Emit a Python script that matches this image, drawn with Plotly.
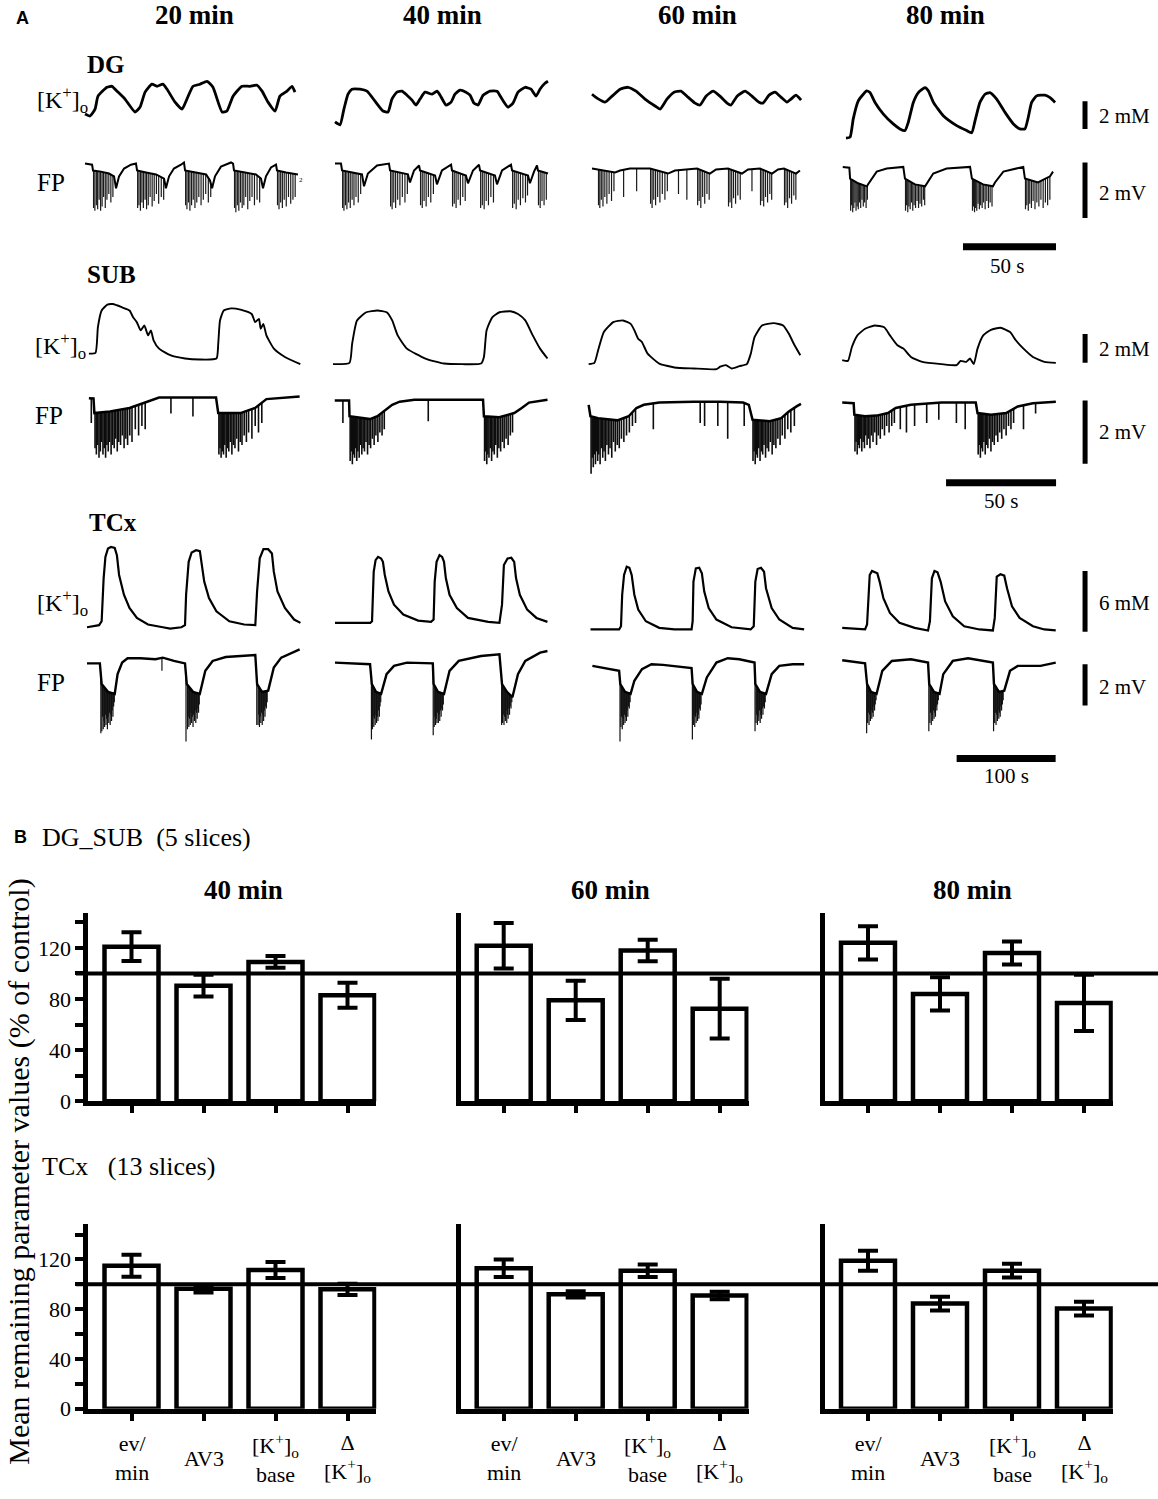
import numpy as np
import plotly.graph_objects as go

W, H = 1158, 1499
SERIF = "Liberation Serif, Times New Roman, serif"
SANS = "Liberation Sans, Arial, sans-serif"

# ======================= PANEL B DATA =======================
CATEGORIES = ["ev/<br>min", "AV3", "[K<sup>+</sup>]<sub>o</sub><br>base", "Δ<br>[K<sup>+</sup>]<sub>o</sub>"]
B_TIMES = ["40 min", "60 min", "80 min"]
Y_MAJOR = [0, 40, 80, 120]
Y_MINOR = [20, 60, 100, 140]

DGSUB_40_MEAN = [121, 90.5, 109, 83]
DGSUB_40_ERR = [11.3, 8.5, 4.6, 9.7]
DGSUB_60_MEAN = [121.7, 79, 118, 72.5]
DGSUB_60_ERR = [17.7, 15.4, 8.4, 23.4]
DGSUB_80_MEAN = [124, 84, 116, 77]
DGSUB_80_ERR = [13, 13, 9, 22]

TCX_40_MEAN = [115, 96.5, 111.5, 96]
TCX_40_ERR = [8.9, 3.0, 6.4, 4.5]
TCX_60_MEAN = [113, 92, 111, 91]
TCX_60_ERR = [7, 2.5, 5, 3]
TCX_80_MEAN = [119, 84.5, 111, 80.5]
TCX_80_ERR = [8, 5.6, 5.5, 5.5]
CONTROL_LEVEL = 100

# ======================= PANEL A DATA =======================
# (time s, [K+]o change mM) and (time s, FP mV)
DG20_K = [(0, 0.71), (2.7, 0.57), (5.4, 1.07), (7.0, 2.0), (11.8, 2.64), (14.5, 2.71), (17.2, 2.36), (21.5, 1.79),
          (26.9, 0.86), (29.6, 1.21), (32.3, 2.29), (36.0, 2.86), (38.7, 2.71), (41.9, 2.86), (44.1, 2.5), (48.4, 1.57),
          (52.2, 1.07), (54.8, 1.79), (58.1, 2.71), (61.8, 2.86), (65.6, 3.07), (68.8, 2.64), (73.7, 0.86), (76.3, 0.93),
          (79.6, 2.0), (84.4, 2.71), (88.7, 2.71), (92.5, 2.79), (95.2, 2.36), (98.4, 1.57), (102.2, 0.93), (104.8, 2.0),
          (108.6, 2.36), (111.3, 2.71), (112.9, 2.29)]
DG40_K = [(0, 0.14), (2.7, -0.07), (4.8, 1.07), (7.0, 2.14), (9.1, 2.5), (13.4, 2.5), (17.2, 2.36), (21.5, 1.64),
          (25.8, 0.93), (28.5, 0.86), (30.6, 1.79), (33.3, 2.29), (36.0, 2.36), (38.7, 2.07), (41.4, 1.71), (43.5, 1.36),
          (45.7, 1.79), (48.4, 2.29), (52.2, 2.14), (54.8, 2.36), (56.5, 2.07), (59.7, 1.36), (62.4, 1.57), (64.5, 2.14),
          (67.2, 2.43), (70.4, 2.29), (72.6, 2.07), (74.7, 1.5), (76.9, 1.36), (79.6, 2.07), (83.3, 2.36), (87.1, 2.36),
          (89.8, 1.79), (93.0, 1.21), (95.7, 1.5), (98.4, 2.29), (102.2, 2.64), (105.4, 2.5), (108.1, 2.0), (110.2, 2.5),
          (112.9, 2.93), (114.5, 3.07)]
DG60_K = [(0, 2.14), (2.7, 1.86), (7.0, 1.57), (10.8, 2.0), (15.1, 2.5), (19.4, 2.64), (23.7, 2.36), (28.5, 1.79),
          (33.9, 1.29), (36.6, 1.07), (40.3, 1.79), (44.1, 2.29), (47.8, 2.36), (51.6, 1.93), (55.4, 1.5), (58.1, 1.36),
          (61.3, 2.0), (65.1, 2.36), (68.8, 2.0), (72.6, 1.5), (74.7, 1.36), (78.0, 2.0), (82.3, 2.36), (86.0, 2.0),
          (89.8, 1.57), (91.9, 1.5), (95.2, 2.07), (98.4, 2.29), (101.6, 1.93), (104.8, 1.57), (107.0, 1.79),
          (109.7, 2.07), (112.4, 1.71)]
DG80_K = [(0, -1.02), (2.2, -0.95), (3.9, 0.36), (6.6, 1.66), (9.3, 2.14), (11.1, 2.38), (12.9, 2.26), (15.6, 1.55),
          (20.1, 0.71), (25.4, 0), (29.0, -0.36), (31.7, -0.48), (33.5, 0.12), (36.2, 1.55), (38.9, 2.26), (42.5, 2.62),
          (44.3, 2.38), (47.0, 1.55), (52.3, 0.59), (59.5, -0.12), (64.9, -0.48), (67.6, -0.64), (69.4, 0.24),
          (72.0, 1.55), (74.7, 2.14), (77.4, 2.26), (81.0, 1.79), (85.5, 0.83), (90.0, 0), (93.5, -0.36), (96.2, -0.36),
          (98.0, 0.48), (99.8, 1.55), (102.5, 2.02), (107.0, 2.07), (109.7, 1.9), (112.4, 1.55)]

DG20_FP = [(0, 0), (3.8, -0.04), (4.3, -0.25), (8.6, -0.29), (12.9, -0.36), (15.6, -0.46), (16.7, -0.89), (18.3, -0.46),
           (21.0, -0.18), (24.7, -0.04), (27.4, 0), (28.0, -0.25), (32.8, -0.32), (38.2, -0.39), (42.5, -0.54),
           (43.5, -0.89), (45.2, -0.46), (47.8, -0.18), (51.6, -0.04), (53.2, 0.04), (53.8, -0.25), (59.7, -0.32),
           (65.1, -0.39), (67.2, -0.61), (68.3, -0.89), (69.9, -0.46), (73.1, -0.11), (78.5, 0.04), (79.6, 0),
           (80.1, -0.25), (86.6, -0.32), (91.9, -0.39), (94.6, -0.54), (95.7, -0.89), (97.3, -0.46), (100.0, -0.14),
           (102.7, -0.04), (103.2, -0.25), (108.1, -0.32), (114.5, -0.39)]
DG20_SPK_T = [4.6, 5.3, 6.1, 6.8, 7.6, 8.4, 9.2, 10.0, 10.9, 11.8, 12.8, 13.9, 15.0,
              28.3, 29.0, 29.8, 30.6, 31.4, 32.3, 33.1, 34.0, 35.0, 36.1, 37.2, 38.4, 39.6, 41.0, 42.3,
              54.1, 54.8, 55.6, 56.4, 57.3, 58.2, 59.1, 60.1, 61.2, 62.4, 63.6, 64.9, 66.3, 67.6,
              80.4, 81.1, 81.9, 82.7, 83.6, 84.5, 85.4, 86.4, 87.5, 88.6, 89.8, 91.1, 92.5, 93.9,
              103.5, 104.3, 105.2, 106.1, 107.1, 108.2, 109.4, 110.6, 111.8, 113.0]
DG20_SPK_V = [-1.6, -1.7, -1.5, -1.65, -1.3, -1.7, -1.55, -1.2, -1.6, -1.3, -1.1, -1.4, -1.2,
              -1.6, -1.5, -1.7, -1.4, -1.6, -1.3, -1.65, -1.5, -1.2, -1.55, -1.35, -1.1, -1.45, -1.2, -1.3,
              -1.5, -1.65, -1.4, -1.7, -1.5, -1.3, -1.6, -1.4, -1.2, -1.5, -1.3, -1.1, -1.4, -1.2,
              -1.6, -1.75, -1.5, -1.7, -1.4, -1.6, -1.5, -1.2, -1.65, -1.35, -1.2, -1.5, -1.3, -1.4,
              -1.5, -1.65, -1.4, -1.6, -1.3, -1.55, -1.2, -1.45, -1.3, -1.2]

DG40_FP = [(0, 0), (3.2, 0), (3.8, -0.25), (14.5, -0.39), (15.6, -0.82), (17.7, -0.36), (22.6, -0.07), (29.0, 0),
           (29.6, -0.25), (39.2, -0.39), (40.3, -0.68), (42.5, -0.25), (45.2, -0.07), (45.7, -0.25), (53.8, -0.43),
           (54.8, -0.75), (57.5, -0.25), (62.4, -0.04), (62.9, -0.25), (70.4, -0.43), (71.5, -0.71), (74.2, -0.25),
           (77.4, -0.04), (78.0, -0.25), (86.0, -0.43), (87.1, -0.75), (89.8, -0.25), (94.6, -0.04), (95.2, -0.25),
           (103.8, -0.43), (104.8, -0.71), (107.0, -0.29), (108.6, -0.07), (109.1, -0.25), (114.5, -0.36)]
DG40_SPK_T = [4.1, 4.8, 5.6, 6.4, 7.3, 8.2, 9.2, 10.2, 11.3, 12.5, 13.8,
              29.9, 30.7, 31.6, 32.6, 33.7, 34.9, 36.2, 37.6, 38.9,
              46.0, 46.9, 47.9, 49.0, 50.2, 51.5, 52.9,
              63.2, 64.1, 65.1, 66.2, 67.4, 68.7, 70.0,
              78.3, 79.2, 80.2, 81.3, 82.5, 83.8, 85.2,
              95.5, 96.4, 97.4, 98.5, 99.7, 101.0, 102.4, 103.5,
              109.4, 110.3, 111.3, 112.4, 113.6]
DG40_SPK_V = [-1.6, -1.7, -1.5, -1.65, -1.4, -1.6, -1.3, -1.5, -1.2, -1.4, -1.1,
              -1.55, -1.65, -1.4, -1.6, -1.3, -1.5, -1.2, -1.4, -1.1,
              -1.5, -1.6, -1.35, -1.55, -1.2, -1.4, -1.1,
              -1.55, -1.45, -1.6, -1.3, -1.5, -1.2, -1.35,
              -1.6, -1.5, -1.65, -1.35, -1.5, -1.2, -1.4,
              -1.6, -1.45, -1.65, -1.3, -1.5, -1.25, -1.4, -1.15,
              -1.5, -1.6, -1.35, -1.5, -1.3]

DG60_FP = [(0, -0.18), (3.2, -0.21), (12.4, -0.32), (15.1, -0.25), (20.4, -0.18), (31.2, -0.18), (40.9, -0.36),
           (44.6, -0.25), (56.5, -0.18), (63.4, -0.36), (66.7, -0.21), (73.1, -0.18), (80.6, -0.36), (83.9, -0.21),
           (90.3, -0.18), (96.8, -0.36), (100.0, -0.21), (103.2, -0.18), (109.7, -0.36), (111.8, -0.25)]
DG60_SPK_T = [3.5, 4.2, 5.0, 5.9, 6.9, 8.0, 9.2, 10.5, 11.8, 17.0, 24.0,
              31.5, 32.3, 33.2, 34.2, 35.3, 36.5, 37.8, 39.2, 40.5, 46.5, 51.0,
              56.8, 57.6, 58.5, 59.5, 60.6, 61.8, 63.0,
              73.4, 74.2, 75.1, 76.1, 77.2, 78.4, 79.7, 86.0,
              90.6, 91.4, 92.3, 93.3, 94.4, 95.6, 96.6,
              103.5, 104.3, 105.2, 106.2, 107.3, 108.5, 109.6]
DG60_SPK_V = [-1.5, -1.6, -1.3, -1.55, -1.2, -1.45, -1.1, -1.35, -1.0, -1.2, -1.0,
              -1.45, -1.6, -1.3, -1.5, -1.2, -1.4, -1.1, -1.3, -1.0, -1.1, -1.3,
              -1.5, -1.35, -1.6, -1.2, -1.45, -1.1, -1.3,
              -1.55, -1.4, -1.6, -1.25, -1.45, -1.15, -1.3, -1.0,
              -1.5, -1.35, -1.55, -1.2, -1.4, -1.1, -1.3,
              -1.5, -1.4, -1.6, -1.25, -1.45, -1.15, -1.3]

DG80_FP = [(-1.8, -0.12), (1.8, -0.15), (2.2, -0.54), (6.5, -0.71), (11.3, -0.82), (11.8, -0.75), (16.5, -0.29),
           (21.9, -0.18), (30.8, -0.12), (31.7, -0.54), (37.1, -0.75), (42.5, -0.82), (46.9, -0.36), (54.1, -0.18),
           (66.7, -0.12), (67.7, -0.54), (73.7, -0.75), (79.0, -0.82), (80.1, -0.68), (84.6, -0.29), (95.3, -0.12),
           (96.2, -0.54), (103.2, -0.68), (109.7, -0.46), (111.3, -0.29)]
DG80_SPK_T = [2.5, 3.0, 3.6, 4.2, 4.8, 5.4, 6.0, 6.6, 7.2, 7.9, 8.6, 9.3, 10.0, 10.8, 11.5,
              32.0, 32.6, 33.2, 33.8, 34.5, 35.2, 35.9, 36.6, 37.4, 38.2, 39.0, 39.8, 40.7, 41.6, 42.3,
              68.0, 68.5, 69.1, 69.7, 70.3, 71.0, 71.7, 72.4, 73.2, 74.0, 74.8, 75.7, 76.6, 77.5, 78.5,
              96.5, 97.2, 98.0, 98.8, 99.7, 100.6, 101.6, 102.6, 103.7, 104.8, 106.0, 107.2, 108.4, 109.6]
DG80_SPK_V = [-1.7, -1.5, -1.75, -1.6, -1.4, -1.7, -1.55, -1.65, -1.4, -1.6, -1.3, -1.55, -1.4, -1.6, -1.3,
              -1.7, -1.5, -1.75, -1.55, -1.65, -1.4, -1.7, -1.5, -1.6, -1.35, -1.6, -1.45, -1.55, -1.3, -1.5,
              -1.7, -1.55, -1.75, -1.6, -1.7, -1.45, -1.65, -1.5, -1.6, -1.4, -1.65, -1.35, -1.6, -1.4, -1.55,
              -1.65, -1.5, -1.7, -1.45, -1.6, -1.35, -1.65, -1.4, -1.55, -1.3, -1.6, -1.4, -1.5, -1.3]

SUB20_K = [(0.4, 0.57), (3.4, 0.62), (4.5, 2.41), (6.2, 3.57), (8.8, 3.98), (11.3, 4.02), (15.5, 3.79), (18.9, 3.57),
           (20.5, 3.10), (22.2, 2.76), (23.9, 2.19), (25.6, 2.53), (27.3, 1.84), (28.6, 2.19), (29.8, 1.50),
           (32.3, 0.92), (37.4, 0.46), (44.1, 0.23), (50.8, 0.16), (58.4, 0.23), (59.2, 1.26), (60.0, 2.88),
           (61.7, 3.57), (65.1, 3.72), (69.3, 3.63), (74.4, 3.33), (76.0, 2.76), (77.7, 2.99), (78.5, 2.30),
           (79.7, 2.64), (81.1, 1.84), (84.5, 0.92), (89.5, 0.34), (96.5, -0.16)]
SUB40_K = [(0, -0.16), (7.5, -0.07), (8.7, 1.26), (10.9, 2.88), (15.1, 3.45), (20.2, 3.57), (24.4, 3.45), (26.9, 2.88),
           (29.4, 1.84), (33.6, 0.92), (42.0, 0.23), (50.5, -0.12), (58.8, -0.16), (67.3, -0.12), (68.6, 0.34),
           (69.8, 2.18), (72.4, 3.10), (75.7, 3.45), (80.7, 3.52), (84.1, 3.33), (87.4, 2.88), (90.8, 1.84),
           (94.1, 0.92), (97.5, 0.23)]
SUB60_K = [(0.3, -0.16), (2.9, -0.07), (4.6, 0.80), (7.2, 2.07), (11.5, 2.76), (15.9, 2.88), (19.4, 2.64), (21.1, 2.19),
           (22.8, 1.61), (24.5, 1.38), (27.1, 0.57), (32.4, -0.12), (39.3, -0.39), (48.0, -0.46), (58.4, -0.51),
           (60.1, -0.34), (62.7, -0.23), (65.3, -0.46), (68.8, -0.30), (72.2, -0.16), (74.0, 0.57), (75.7, 1.72),
           (79.1, 2.53), (84.4, 2.69), (88.7, 2.53), (91.3, 1.95), (93.9, 1.15), (96.5, 0.46)]
SUB80_K = [(0.1, 0.12), (2.7, 0.07), (4.5, 1.03), (7.0, 1.84), (10.5, 2.30), (14.8, 2.53), (19.2, 2.41), (21.8, 1.84),
           (25.2, 1.15), (27.9, 0.92), (31.3, 0.34), (36.5, 0), (45.2, -0.16), (52.1, -0.23), (53.9, 0.07), (56.5, 0),
           (58.2, 0.23), (59.9, -0.16), (61.6, 0.92), (64.2, 1.84), (67.7, 2.23), (72.0, 2.37), (76.4, 2.07),
           (79.0, 1.50), (82.5, 0.92), (86.8, 0.34), (92.0, 0), (97.2, -0.07)]

SUB20_FP = [(0.4, -0.02), (2.5, -0.03), (2.9, -0.49), (10.0, -0.44), (18.9, -0.33), (23.6, -0.22), (27.3, -0.13),
            (32.3, 0), (58.2, 0), (59.2, -0.49), (69.3, -0.49), (76.0, -0.33), (81.1, -0.05), (96.2, 0.03)]
SUB20_SPK_T = [1.5, 3.2, 3.8, 4.4, 5.0, 5.6, 6.2, 6.8, 7.4, 8.0, 8.6, 9.2, 9.8, 10.5, 11.2, 11.9, 12.6, 13.3, 14.0,
               14.8, 15.6, 16.4, 17.2, 18.0, 19.0, 20.0, 21.5, 23.0, 24.5, 26.0, 37.7, 47.7,
               59.5, 60.0, 60.5, 61.0, 61.6, 62.2, 62.8, 63.4, 64.0, 64.7, 65.4, 66.1, 66.8, 67.6, 68.4, 69.2,
               70.0, 71.0, 72.0, 73.0, 74.5, 76.0, 77.5, 79.0]
SUB20_SPK_V = [-0.8, -1.6, -1.8, -1.5, -1.9, -1.7, -1.4, -1.8, -1.6, -1.9, -1.5, -1.7, -1.4, -1.8, -1.5, -1.6, -1.3,
               -1.7, -1.4, -1.5, -1.2, -1.6, -1.3, -1.5, -1.2, -1.4, -1.0, -1.2, -0.9, -1.0, -0.5, -0.6,
               -1.8, -1.6, -1.9, -1.7, -1.8, -1.5, -1.9, -1.6, -1.7, -1.4, -1.8, -1.5, -1.6, -1.3, -1.7, -1.4,
               -1.5, -1.2, -1.4, -1.1, -1.3, -0.9, -1.1, -0.8]
SUB40_FP = [(0.8, -0.09), (4.2, -0.09), (7.3, -0.09), (7.5, -0.59), (16.8, -0.68), (20.2, -0.59), (24.4, -0.38),
            (26.9, -0.23), (30.3, -0.13), (37.0, -0.07), (68.2, -0.07), (68.6, -0.59), (75.6, -0.62), (82.4, -0.49),
            (85.8, -0.33), (89.1, -0.16), (97.5, -0.07)]
SUB40_SPK_T = [4.5, 7.8, 8.3, 8.8, 9.3, 9.8, 10.3, 10.8, 11.3, 11.9, 12.5, 13.1, 13.7, 14.3, 15.0, 15.7, 16.4, 17.1,
               17.9, 18.7, 19.5, 20.4, 21.3, 22.3, 23.3, 43.3,
               68.9, 69.4, 69.9, 70.4, 70.9, 71.5, 72.1, 72.7, 73.3, 74.0, 74.7, 75.4, 76.2, 77.0, 77.8, 78.7, 79.6,
               80.6, 81.6]
SUB40_SPK_V = [-0.8, -2.0, -1.7, -2.1, -1.8, -1.9, -1.6, -2.0, -1.7, -1.9, -1.5, -1.8, -1.6, -1.7, -1.4, -1.8, -1.5,
               -1.6, -1.3, -1.5, -1.2, -1.4, -1.1, -1.2, -1.0, -0.75,
               -2.0, -1.7, -2.1, -1.8, -1.9, -1.6, -2.0, -1.7, -1.8, -1.5, -1.9, -1.6, -1.7, -1.4, -1.6, -1.3, -1.5,
               -1.2, -1.1]
SUB60_FP = [(0.3, -0.23), (1.1, -0.59), (4.6, -0.65), (13.3, -0.72), (18.5, -0.59), (22.0, -0.33), (25.4, -0.23),
            (32.4, -0.16), (48.0, -0.13), (60.1, -0.13), (70.5, -0.16), (73.1, -0.23), (74.8, -0.70), (82.6, -0.75),
            (87.8, -0.65), (91.3, -0.44), (94.8, -0.28), (96.8, -0.20)]
SUB60_SPK_T = [1.4, 1.9, 2.4, 2.9, 3.4, 3.9, 4.4, 4.9, 5.5, 6.1, 6.7, 7.3, 7.9, 8.6, 9.3, 10.0, 10.8, 11.6, 12.4,
               13.3, 14.2, 15.2, 16.3, 17.5, 18.8, 20.2, 21.6, 29.7, 51.0, 53.0, 59.0, 63.5, 71.0,
               75.0, 75.5, 76.0, 76.5, 77.0, 77.6, 78.2, 78.8, 79.4, 80.0, 80.7, 81.4, 82.1, 82.9, 83.7, 84.5, 85.4,
               86.3, 87.3, 88.3, 89.5, 90.8, 92.2, 93.8]
SUB60_SPK_V = [-2.4, -1.9, -2.2, -1.8, -2.1, -1.7, -2.0, -1.8, -2.1, -1.6, -1.9, -1.7, -2.0, -1.5, -1.8, -1.6, -1.9,
               -1.4, -1.7, -1.5, -1.6, -1.3, -1.4, -1.2, -1.1, -0.9, -0.8, -1.0, -0.8, -0.9, -0.9, -1.3, -0.9,
               -2.0, -1.7, -2.1, -1.8, -1.9, -1.6, -2.0, -1.7, -1.8, -1.5, -1.9, -1.6, -1.7, -1.4, -1.8, -1.5, -1.6,
               -1.3, -1.5, -1.2, -1.3, -1.0, -1.1, -0.9]
SUB80_FP = [(0.1, -0.16), (5.3, -0.18), (5.6, -0.54), (10.5, -0.59), (15.7, -0.57), (20.9, -0.49), (24.4, -0.33),
            (31.3, -0.23), (45.2, -0.16), (60.8, -0.16), (61.6, -0.49), (67.7, -0.54), (74.6, -0.49), (79.9, -0.28),
            (86.8, -0.18), (97.2, -0.13)]
SUB80_SPK_T = [5.9, 6.4, 6.9, 7.4, 7.9, 8.4, 9.0, 9.6, 10.2, 10.8, 11.4, 12.0, 12.7, 13.4, 14.1, 14.9, 15.7, 16.5,
               17.4, 18.3, 19.3, 20.3, 21.4, 22.6, 23.8, 26.5, 29.3, 33.0, 38.5, 44.0, 52.0, 56.0,
               61.9, 62.4, 62.9, 63.4, 63.9, 64.5, 65.1, 65.7, 66.3, 67.0, 67.7, 68.4, 69.2, 70.0, 70.8, 71.7, 72.6,
               73.6, 74.6, 75.7, 76.8, 78.0, 82.5, 88.0]
SUB80_SPK_V = [-1.7, -1.4, -1.8, -1.5, -1.6, -1.3, -1.7, -1.4, -1.6, -1.2, -1.5, -1.3, -1.6, -1.2, -1.4, -1.1, -1.5,
               -1.2, -1.3, -1.0, -1.2, -0.9, -1.1, -0.9, -0.8, -1.0, -1.1, -0.9, -0.8, -0.7, -0.8, -1.0,
               -1.8, -1.5, -1.9, -1.6, -1.7, -1.4, -1.8, -1.5, -1.6, -1.3, -1.7, -1.4, -1.5, -1.2, -1.4, -1.1, -1.3,
               -1.0, -1.2, -0.9, -1.0, -0.8, -1.0, -0.5]

TCX20_K = [(0, -0.07), (12.2, 0.13), (14.8, 0.52), (16.8, 4.77), (18.6, 6.89), (21.2, 7.72), (24.2, 7.87), (28.0, 7.77),
           (30.2, 7.06), (32.4, 5.10), (37.3, 3.14), (42.9, 1.83), (50.4, 0.85), (61.6, 0.20), (76.6, -0.07),
           (84.0, -0.20), (95.3, -0.07), (99.0, 0.13), (100.1, 3.14), (102.7, 6.40), (105.7, 7.32), (110.2, 7.55),
           (114.0, 7.45), (115.8, 6.40), (118.4, 4.44), (123.2, 2.81), (130.7, 1.50), (143.8, 0.52), (158.8, 0.20),
           (170.0, 0.13), (171.8, 3.46), (174.5, 6.74), (178.2, 7.65), (183.0, 7.65), (186.8, 7.23), (188.7, 5.42),
           (192.4, 3.46), (199.9, 1.83), (209.2, 0.69), (215.6, 0.36)]
TCX40_K = [(0, 0.36), (35.6, 0.36), (37.4, 0.52), (39.1, 5.42), (41.0, 6.57), (43.5, 6.89), (46.6, 6.73), (48.4, 6.40),
           (50.3, 5.10), (54.0, 3.46), (59.6, 2.16), (69.0, 1.18), (84.0, 0.59), (97.0, 0.46), (99.6, 0.69),
           (100.7, 4.44), (102.6, 6.40), (105.6, 7.06), (108.2, 6.89), (110.1, 6.40), (112.0, 4.77), (115.7, 3.14),
           (123.1, 1.83), (134.3, 0.85), (154.8, 0.46), (166.1, 0.36), (168.7, 2.16), (170.6, 6.08), (174.3, 6.73),
           (178.1, 6.80), (181.0, 6.40), (182.9, 4.77), (186.7, 3.14), (194.1, 1.67), (203.5, 0.85), (214.6, 0.46)]
TCX60_K = [(0.5, -0.29), (29.4, -0.29), (31.3, 0.03), (32.5, 3.14), (34.4, 5.10), (37.1, 5.91), (39.8, 5.81),
           (42.1, 5.10), (44.8, 3.14), (48.7, 1.67), (56.4, 0.52), (69.9, -0.13), (85.3, -0.29), (102.6, -0.29),
           (103.7, 0.52), (104.5, 4.44), (106.9, 5.75), (110.3, 5.81), (113.0, 5.26), (115.4, 3.46), (119.9, 1.83),
           (127.7, 0.69), (143.0, -0.07), (162.3, -0.29), (165.4, 0.03), (167.0, 4.44), (169.3, 5.69), (172.7, 5.81),
           (175.8, 5.42), (177.8, 3.79), (183.5, 1.83), (191.2, 0.69), (204.7, -0.13), (216.3, -0.29)]
TCX80_K = [(0.2, -0.13), (23.3, -0.29), (25.3, 0.20), (26.5, 3.14), (28.0, 5.10), (30.3, 5.49), (33.0, 5.36),
           (35.7, 5.26), (38.0, 4.44), (41.8, 2.81), (48.4, 1.34), (58.0, 0.36), (73.4, -0.13), (86.9, -0.39),
           (88.8, 0.52), (90.8, 4.77), (93.4, 5.49), (96.5, 5.36), (99.6, 4.44), (104.2, 2.48), (111.9, 1.01),
           (123.4, 0.03), (138.9, -0.29), (152.4, -0.39), (154.3, 0.85), (156.3, 4.93), (160.1, 5.17), (163.9, 5.03),
           (166.7, 3.79), (171.7, 1.99), (179.4, 0.85), (192.9, 0.03), (204.4, -0.29), (215.9, -0.39)]

TCX20_FP = [(0, -0.01), (13.0, -0.01), (14.8, -1.01), (21.2, -1.39), (28.0, -1.49), (30.9, -0.53), (35.5, 0.03),
            (41.0, 0.24), (54.1, 0.24), (69.1, 0.19), (76.6, 0.27), (87.8, 0.11), (99.0, -0.01), (100.8, -1.01),
            (107.1, -1.39), (113.9, -1.49), (119.5, -0.37), (126.9, 0.11), (140.1, 0.30), (170.0, 0.40),
            (171.8, -1.01), (176.8, -1.39), (183.0, -1.33), (188.7, -0.21), (196.2, 0.27), (207.4, 0.51), (214.8, 0.67)]
TCX20_SPK_T = [14.0, 15.0, 15.7, 16.4, 17.1, 17.8, 18.5, 19.2, 19.9, 20.6, 21.3, 22.0, 22.7, 23.4, 24.1, 24.8, 25.5,
               26.2, 26.9, 27.6, 75.7,
               100.0, 101.5, 102.2, 102.9, 103.6, 104.3, 105.0, 105.7, 106.4, 107.1, 107.8, 108.5, 109.2, 109.9,
               110.6, 111.3, 112.0, 112.7, 113.4,
               171.5, 172.8, 173.5, 174.2, 174.9, 175.6, 176.3, 177.0, 177.7, 178.4, 179.1, 179.8, 180.5, 181.2, 182.0]
TCX20_SPK_V = [-3.4, -3.3, -2.6, -3.2, -2.8, -3.1, -2.5, -3.0, -2.7, -3.2, -2.6, -2.9, -2.4, -3.0, -2.5, -2.8, -2.3,
               -2.6, -2.1, -1.9, -0.37,
               -3.8, -3.2, -2.6, -3.1, -2.7, -3.0, -2.4, -2.9, -2.6, -3.1, -2.5, -2.8, -2.3, -2.9, -2.4, -2.7, -2.2,
               -2.4, -2.0,
               -3.0, -3.0, -2.5, -3.1, -2.6, -2.9, -2.4, -3.0, -2.5, -2.8, -2.3, -2.6, -2.1, -2.2, -1.9]
TCX40_FP = [(0, 0.03), (35.4, -0.05), (37.2, -1.01), (41.4, -1.39), (46.6, -1.49), (52.1, -0.53), (59.6, -0.13),
            (72.7, 0.03), (98.8, -0.01), (99.6, -1.01), (104.0, -1.39), (110.1, -1.49), (115.7, -0.37), (125.0, 0.11),
            (147.5, 0.35), (166.1, 0.43), (168.7, -1.01), (173.7, -1.39), (179.2, -1.65), (184.8, -0.53),
            (192.2, 0.11), (207.2, 0.51), (214.6, 0.59)]
TCX40_SPK_T = [36.8, 37.8, 38.5, 39.2, 39.9, 40.6, 41.3, 42.0, 42.7, 43.4, 44.1, 44.8, 45.5, 46.2,
               99.2, 100.2, 100.9, 101.6, 102.3, 103.0, 103.7, 104.4, 105.1, 105.8, 106.5, 107.2, 107.9, 108.6, 109.4,
               168.3, 169.3, 170.0, 170.7, 171.4, 172.1, 172.8, 173.5, 174.2, 174.9, 175.6, 176.3, 177.0, 177.8, 178.6]
TCX40_SPK_V = [-3.7, -3.2, -2.6, -3.1, -2.7, -3.0, -2.5, -2.9, -2.6, -2.8, -2.3, -2.6, -2.1, -1.9,
               -3.5, -3.1, -2.6, -3.0, -2.7, -2.9, -2.4, -2.9, -2.5, -2.8, -2.3, -2.6, -2.2, -2.3, -2.0,
               -3.0, -2.9, -2.5, -3.0, -2.6, -2.8, -2.3, -2.9, -2.5, -2.7, -2.2, -2.5, -2.1, -2.2, -1.9]
TCX60_FP = [(2.4, -0.13), (29.4, -0.37), (30.6, -1.01), (35.4, -1.39), (41.0, -1.49), (44.8, -0.85), (52.5, -0.29),
            (62.1, -0.05), (73.7, -0.08), (102.6, -0.24), (103.7, -1.01), (108.1, -1.39), (113.0, -1.49),
            (118.0, -0.69), (127.7, 0.03), (139.2, 0.24), (150.8, 0.19), (166.2, 0.03), (167.0, -1.01),
            (171.7, -1.39), (177.8, -1.49), (183.5, -0.53), (191.2, -0.13), (204.7, -0.05), (216.3, -0.05)]
TCX60_SPK_T = [30.3, 31.2, 31.9, 32.6, 33.3, 34.0, 34.7, 35.4, 36.1, 36.8, 37.5, 38.2, 38.9, 39.7, 40.5,
               103.4, 104.4, 105.1, 105.8, 106.5, 107.2, 107.9, 108.6, 109.3, 110.0, 110.7, 111.4, 112.2,
               166.7, 167.7, 168.4, 169.1, 169.8, 170.5, 171.2, 171.9, 172.6, 173.3, 174.0, 174.7, 175.4, 176.2, 177.0]
TCX60_SPK_V = [-3.8, -3.1, -2.6, -3.2, -2.7, -3.0, -2.5, -2.9, -2.6, -2.8, -2.3, -2.6, -2.1, -2.2, -1.9,
               -3.7, -3.0, -2.5, -3.1, -2.6, -2.9, -2.4, -2.8, -2.5, -2.7, -2.2, -2.3, -2.0,
               -3.3, -2.9, -2.5, -3.0, -2.6, -2.8, -2.3, -2.9, -2.5, -2.7, -2.2, -2.5, -2.1, -2.2, -1.9]
TCX80_FP = [(0.2, 0.14), (23.3, -0.01), (25.3, -1.01), (29.3, -1.39), (34.9, -1.49), (40.7, -0.37), (50.3, 0.11),
            (69.6, 0.19), (86.9, 0.03), (88.1, -1.01), (92.9, -1.39), (98.5, -1.49), (102.3, -0.53), (111.9, 0.11),
            (127.4, 0.24), (152.4, 0.03), (153.5, -1.01), (158.6, -1.39), (163.9, -1.33), (169.7, -0.37),
            (177.5, -0.13), (200.5, -0.13), (215.9, 0.03)]
TCX80_SPK_T = [24.9, 25.9, 26.6, 27.3, 28.0, 28.7, 29.4, 30.1, 30.8, 31.5, 32.2, 32.9, 33.6, 34.4,
               87.7, 88.8, 89.5, 90.2, 90.9, 91.6, 92.3, 93.0, 93.7, 94.4, 95.1, 95.8, 96.5, 97.3,
               153.1, 154.2, 154.9, 155.6, 156.3, 157.0, 157.7, 158.4, 159.1, 159.8, 160.5, 161.2, 162.0, 162.8]
TCX80_SPK_V = [-3.4, -2.9, -2.4, -3.0, -2.5, -2.8, -2.3, -2.7, -2.4, -2.6, -2.1, -2.3, -2.0, -1.8,
               -3.3, -2.9, -2.4, -3.0, -2.5, -2.8, -2.3, -2.7, -2.4, -2.6, -2.1, -2.3, -2.0, -1.8,
               -3.3, -2.9, -2.4, -3.0, -2.5, -2.8, -2.3, -2.7, -2.4, -2.6, -2.1, -2.3, -2.0, -1.8]

A_TIMES = ["20 min", "40 min", "60 min", "80 min"]
SCALE_DG = dict(k_mm=2, fp_mv=2, t_s=50)
SCALE_SUB = dict(k_mm=2, fp_mv=2, t_s=50)
SCALE_TCX = dict(k_mm=6, fp_mv=2, t_s=100)

# ======================= LAYOUT HELPERS =======================
layout = dict(width=W, height=H, margin=dict(l=0, r=0, t=0, b=0), paper_bgcolor="white",
              plot_bgcolor="rgba(0,0,0,0)", showlegend=False, annotations=[], shapes=[])
traces = []
_ax = [0]


def new_axes(xdom_px, ydom_px, xrange, yrange, xopts=None, yopts=None):
    _ax[0] += 1
    i = _ax[0]
    xn = "x" if i == 1 else f"x{i}"
    yn = "y" if i == 1 else f"y{i}"
    xa = dict(domain=[xdom_px[0] / W, xdom_px[1] / W], range=list(xrange), anchor=yn, visible=False,
              fixedrange=True, showgrid=False, zeroline=False)
    ya = dict(domain=[1 - ydom_px[1] / H, 1 - ydom_px[0] / H], range=list(yrange), anchor=xn, visible=False,
              fixedrange=True, showgrid=False, zeroline=False)
    if xopts:
        xa.update(xopts)
    if yopts:
        ya.update(yopts)
    layout["xaxis" if i == 1 else f"xaxis{i}"] = xa
    layout["yaxis" if i == 1 else f"yaxis{i}"] = ya
    return xn, yn


def text(px, py, s, size=21, bold=False, family=SERIF, xanchor="center", yanchor="middle", angle=0):
    layout["annotations"].append(dict(
        x=px / W, y=1 - py / H, xref="paper", yref="paper", showarrow=False, xanchor=xanchor, yanchor=yanchor,
        text=f"<b>{s}</b>" if bold else s, textangle=angle, font=dict(family=family, size=size, color="black")))


def line_trace(xs, ys, xa, ya, width, color="black", shape="linear"):
    ln = dict(color=color, width=width, shape=shape)
    if shape == "spline":
        ln["smoothing"] = 0.5
    traces.append(go.Scatter(x=xs, y=ys, mode="lines", xaxis=xa, yaxis=ya, hoverinfo="skip", line=ln))


def fp_draw(env, spk_t, spk_v, xa, ya, env_w, spk_w, spk_color):
    et = np.array([p[0] for p in env], dtype=float)
    ev = np.array([p[1] for p in env], dtype=float)
    sx, sy = [], []
    for t, v in zip(spk_t, spk_v):
        top = float(np.interp(t, et, ev))
        sx += [t, t, None]
        sy += [top, v, None]
    line_trace(sx, sy, xa, ya, spk_w, color=spk_color)
    line_trace(list(et), list(ev), xa, ya, env_w)


# ======================= PANEL A =======================
ROWS_A = [
    dict(name="DG", pps=1.86, x0=[85, 335, 592, 846], xr=(-2, 116), xr_last=(-2, 134),
         k_ref=125, k_ppu=14, k_rng=(-1.3, 3.4), fp_ref=165, fp_ppu=28, fp_rng=(-1.9, 0.2), fp_rng_last=(-3.3, 0.2),
         K=[DG20_K, DG40_K, DG60_K, DG80_K], FP=[DG20_FP, DG40_FP, DG60_FP, DG80_FP],
         ST=[DG20_SPK_T, DG40_SPK_T, DG60_SPK_T, DG80_SPK_T], SV=[DG20_SPK_V, DG40_SPK_V, DG60_SPK_V, DG80_SPK_V],
         kw=2.8, fpw=2.0, spw=1.2, spc="#1a1a1a", kshape="spline", scale=SCALE_DG,
         bar_x=128.5, kbar0=-0.36, fpbar0=0.04, hbar_t0=62.9, hbar_v=-3.0,
         lbl=dict(title=(85, 65), k=(35, 101), fp=(35, 184), kmm=(1097, 117), fpmv=(1097, 195), ts=(1007, 268))),
    dict(name="SUB", pps=2.2, x0=[88, 333, 588, 842], xr=(-1, 99), xr_last=(-1, 114),
         k_ref=365, k_ppu=14.5, k_rng=(-0.7, 4.2), fp_ref=401, fp_ppu=32, fp_rng=(-2.6, 0.2), fp_rng_last=(-2.95, 0.2),
         K=[SUB20_K, SUB40_K, SUB60_K, SUB80_K], FP=[SUB20_FP, SUB40_FP, SUB60_FP, SUB80_FP],
         ST=[SUB20_SPK_T, SUB40_SPK_T, SUB60_SPK_T, SUB80_SPK_T],
         SV=[SUB20_SPK_V, SUB40_SPK_V, SUB60_SPK_V, SUB80_SPK_V],
         kw=1.9, fpw=2.5, spw=1.6, spc="#0d0d0d", kshape="spline", scale=SCALE_SUB,
         bar_x=110.5, kbar0=-0.07, fpbar0=-0.09, hbar_t0=47.3, hbar_v=-2.69,
         lbl=dict(title=(85, 277), k=(33, 349), fp=(33, 419), kmm=(1097, 352), fpmv=(1097, 436), ts=(1001, 505))),
    dict(name="TCx", pps=0.99, x0=[87, 335, 590, 842], xr=(-1, 218), xr_last=(-1, 252),
         k_ref=632, k_ppu=10.2, k_rng=(-0.6, 8.2), fp_ref=669, fp_ppu=20.8, fp_rng=(-4.0, 0.8),
         fp_rng_last=(-4.85, 0.8),
         K=[TCX20_K, TCX40_K, TCX60_K, TCX80_K], FP=[TCX20_FP, TCX40_FP, TCX60_FP, TCX80_FP],
         ST=[TCX20_SPK_T, TCX40_SPK_T, TCX60_SPK_T, TCX80_SPK_T],
         SV=[TCX20_SPK_V, TCX40_SPK_V, TCX60_SPK_V, TCX80_SPK_V],
         kw=2.2, fpw=2.4, spw=1.2, spc="#111111", kshape="linear", scale=SCALE_TCX,
         bar_x=245.5, kbar0=-0.52, fpbar0=-0.05, hbar_t0=115.8, hbar_v=-4.62,
         lbl=dict(title=(87, 527), k=(35, 608), fp=(35, 688), kmm=(1097, 608), fpmv=(1097, 693), ts=(1006, 783))),
]

for row in ROWS_A:
    for c in range(4):
        xr = row["xr_last"] if c == 3 else row["xr"]
        x0 = row["x0"][c]
        xdom = (x0 + xr[0] * row["pps"], x0 + xr[1] * row["pps"])
        kr = row["k_rng"]
        kdom = (row["k_ref"] - kr[1] * row["k_ppu"], row["k_ref"] - kr[0] * row["k_ppu"])
        fr = row["fp_rng_last"] if c == 3 else row["fp_rng"]
        fdom = (row["fp_ref"] - fr[1] * row["fp_ppu"], row["fp_ref"] - fr[0] * row["fp_ppu"])
        kx, ky = new_axes(xdom, kdom, xr, kr)
        fx, fy = new_axes(xdom, fdom, xr, fr)
        kd = row["K"][c]
        line_trace([p[0] for p in kd], [p[1] for p in kd], kx, ky, row["kw"], shape=row["kshape"])
        fp_draw(row["FP"][c], row["ST"][c], row["SV"][c], fx, fy, row["fpw"], row["spw"], row["spc"])
        if c == 3:
            sc = row["scale"]
            bx = row["bar_x"]
            line_trace([bx, bx], [row["kbar0"], row["kbar0"] + sc["k_mm"]], kx, ky, 5)
            line_trace([bx, bx], [row["fpbar0"], row["fpbar0"] - sc["fp_mv"]], fx, fy, 5)
            line_trace([row["hbar_t0"], row["hbar_t0"] + sc["t_s"]], [row["hbar_v"], row["hbar_v"]], fx, fy, 7)
    L = row["lbl"]
    text(*L["title"], row["name"], size=25, bold=True, xanchor="left")
    text(*L["k"], "[K<sup>+</sup>]<sub>o</sub>", size=24, xanchor="left")
    text(*L["fp"], "FP", size=25, xanchor="left")
    sc = row["scale"]
    text(*L["kmm"], f"{sc['k_mm']} mM", size=21, xanchor="left")
    text(*L["fpmv"], f"{sc['fp_mv']} mV", size=21, xanchor="left")
    text(*L["ts"], f"{sc['t_s']} s", size=21)

text(22, 18, "A", size=18, bold=True, family=SANS)
for name, cx in zip(A_TIMES, [195, 442, 697, 945]):
    text(cx, 15, name, size=27, bold=True)
text(301, 182, "2", size=7)

# ======================= PANEL B =======================
B_ROWS = [
    dict(top=921, bottom=1111, rng=(0, 147.3), means=[DGSUB_40_MEAN, DGSUB_60_MEAN, DGSUB_80_MEAN],
         errs=[DGSUB_40_ERR, DGSUB_60_ERR, DGSUB_80_ERR], labels=False),
    dict(top=1235, bottom=1421, rng=(0, 148.3), means=[TCX_40_MEAN, TCX_60_MEAN, TCX_80_MEAN],
         errs=[TCX_40_ERR, TCX_60_ERR, TCX_80_ERR], labels=True),
]
B_GROUP_LEFT = [88.3, 460.5, 824.8]
B_PITCH = 72
B_XR = (-0.6, 3.4)
XPOS = [0, 1, 2, 3]

for row in B_ROWS:
    first_y = None
    for g in range(3):
        left = B_GROUP_LEFT[g]
        xdom = (left, left + (B_XR[1] - B_XR[0]) * B_PITCH)
        xopts = dict(visible=True, showline=True, linewidth=5, linecolor="black", ticks="outside",
                     tickvals=XPOS, ticklen=7, tickwidth=4, tickcolor="black", showticklabels=False)
        if g == 0:
            yopts = dict(visible=True, showline=True, linewidth=5, linecolor="black", ticks="outside",
                         tickvals=Y_MAJOR, ticktext=[str(v) for v in Y_MAJOR], ticklen=8, tickwidth=4,
                         tickcolor="black", tickfont=dict(family=SERIF, size=22, color="black"),
                         minor=dict(tickvals=Y_MINOR, ticks="outside", ticklen=8, tickwidth=4, tickcolor="black",
                                    showgrid=False))
        else:
            yopts = dict(visible=True, showline=True, linewidth=4.5, linecolor="black", ticks="",
                         showticklabels=False)
        xa, ya = new_axes(xdom, (row["top"], row["bottom"]), B_XR, row["rng"], xopts, yopts)
        if g == 0:
            first_y = ya
        traces.append(go.Bar(
            x=XPOS, y=row["means"][g], width=0.75, xaxis=xa, yaxis=ya, hoverinfo="skip",
            marker=dict(color="white", line=dict(color="black", width=4.5)),
            error_y=dict(type="data", array=row["errs"][g], visible=True, color="black", thickness=4, width=10)))
        if row["labels"]:
            for i, lab in enumerate(CATEGORIES):
                layout["annotations"].append(dict(
                    x=XPOS[i], y=1 - 1471 / H, xref=xa, yref="paper", showarrow=False, xanchor="center",
                    yanchor="middle", text=lab, font=dict(family=SERIF, size=22, color="black")))
    layout["shapes"].append(dict(type="line", xref="paper", yref=first_y, x0=76 / W, x1=1.0,
                                 y0=CONTROL_LEVEL, y1=CONTROL_LEVEL, layer="above",
                                 line=dict(color="black", width=4)))

text(20, 844, "B", size=18, bold=True, family=SANS)
text(40, 845, "DG_SUB\u00a0\u00a0(5 slices)", size=26, xanchor="left")
text(40, 1177, "TCx\u00a0\u00a0\u00a0(13 slices)", size=26, xanchor="left")
for name, cx in zip(B_TIMES, [243, 611, 972]):
    text(cx, 898, name, size=27, bold=True)
text(19, 1182, "Mean remaining parameter values (% of control)", size=30, angle=-90)

fig = go.Figure(data=traces, layout=go.Layout(**layout))
fig.write_html("out.html", config={"displayModeBar": False},
               post_script="document.body.style.margin='0';")
